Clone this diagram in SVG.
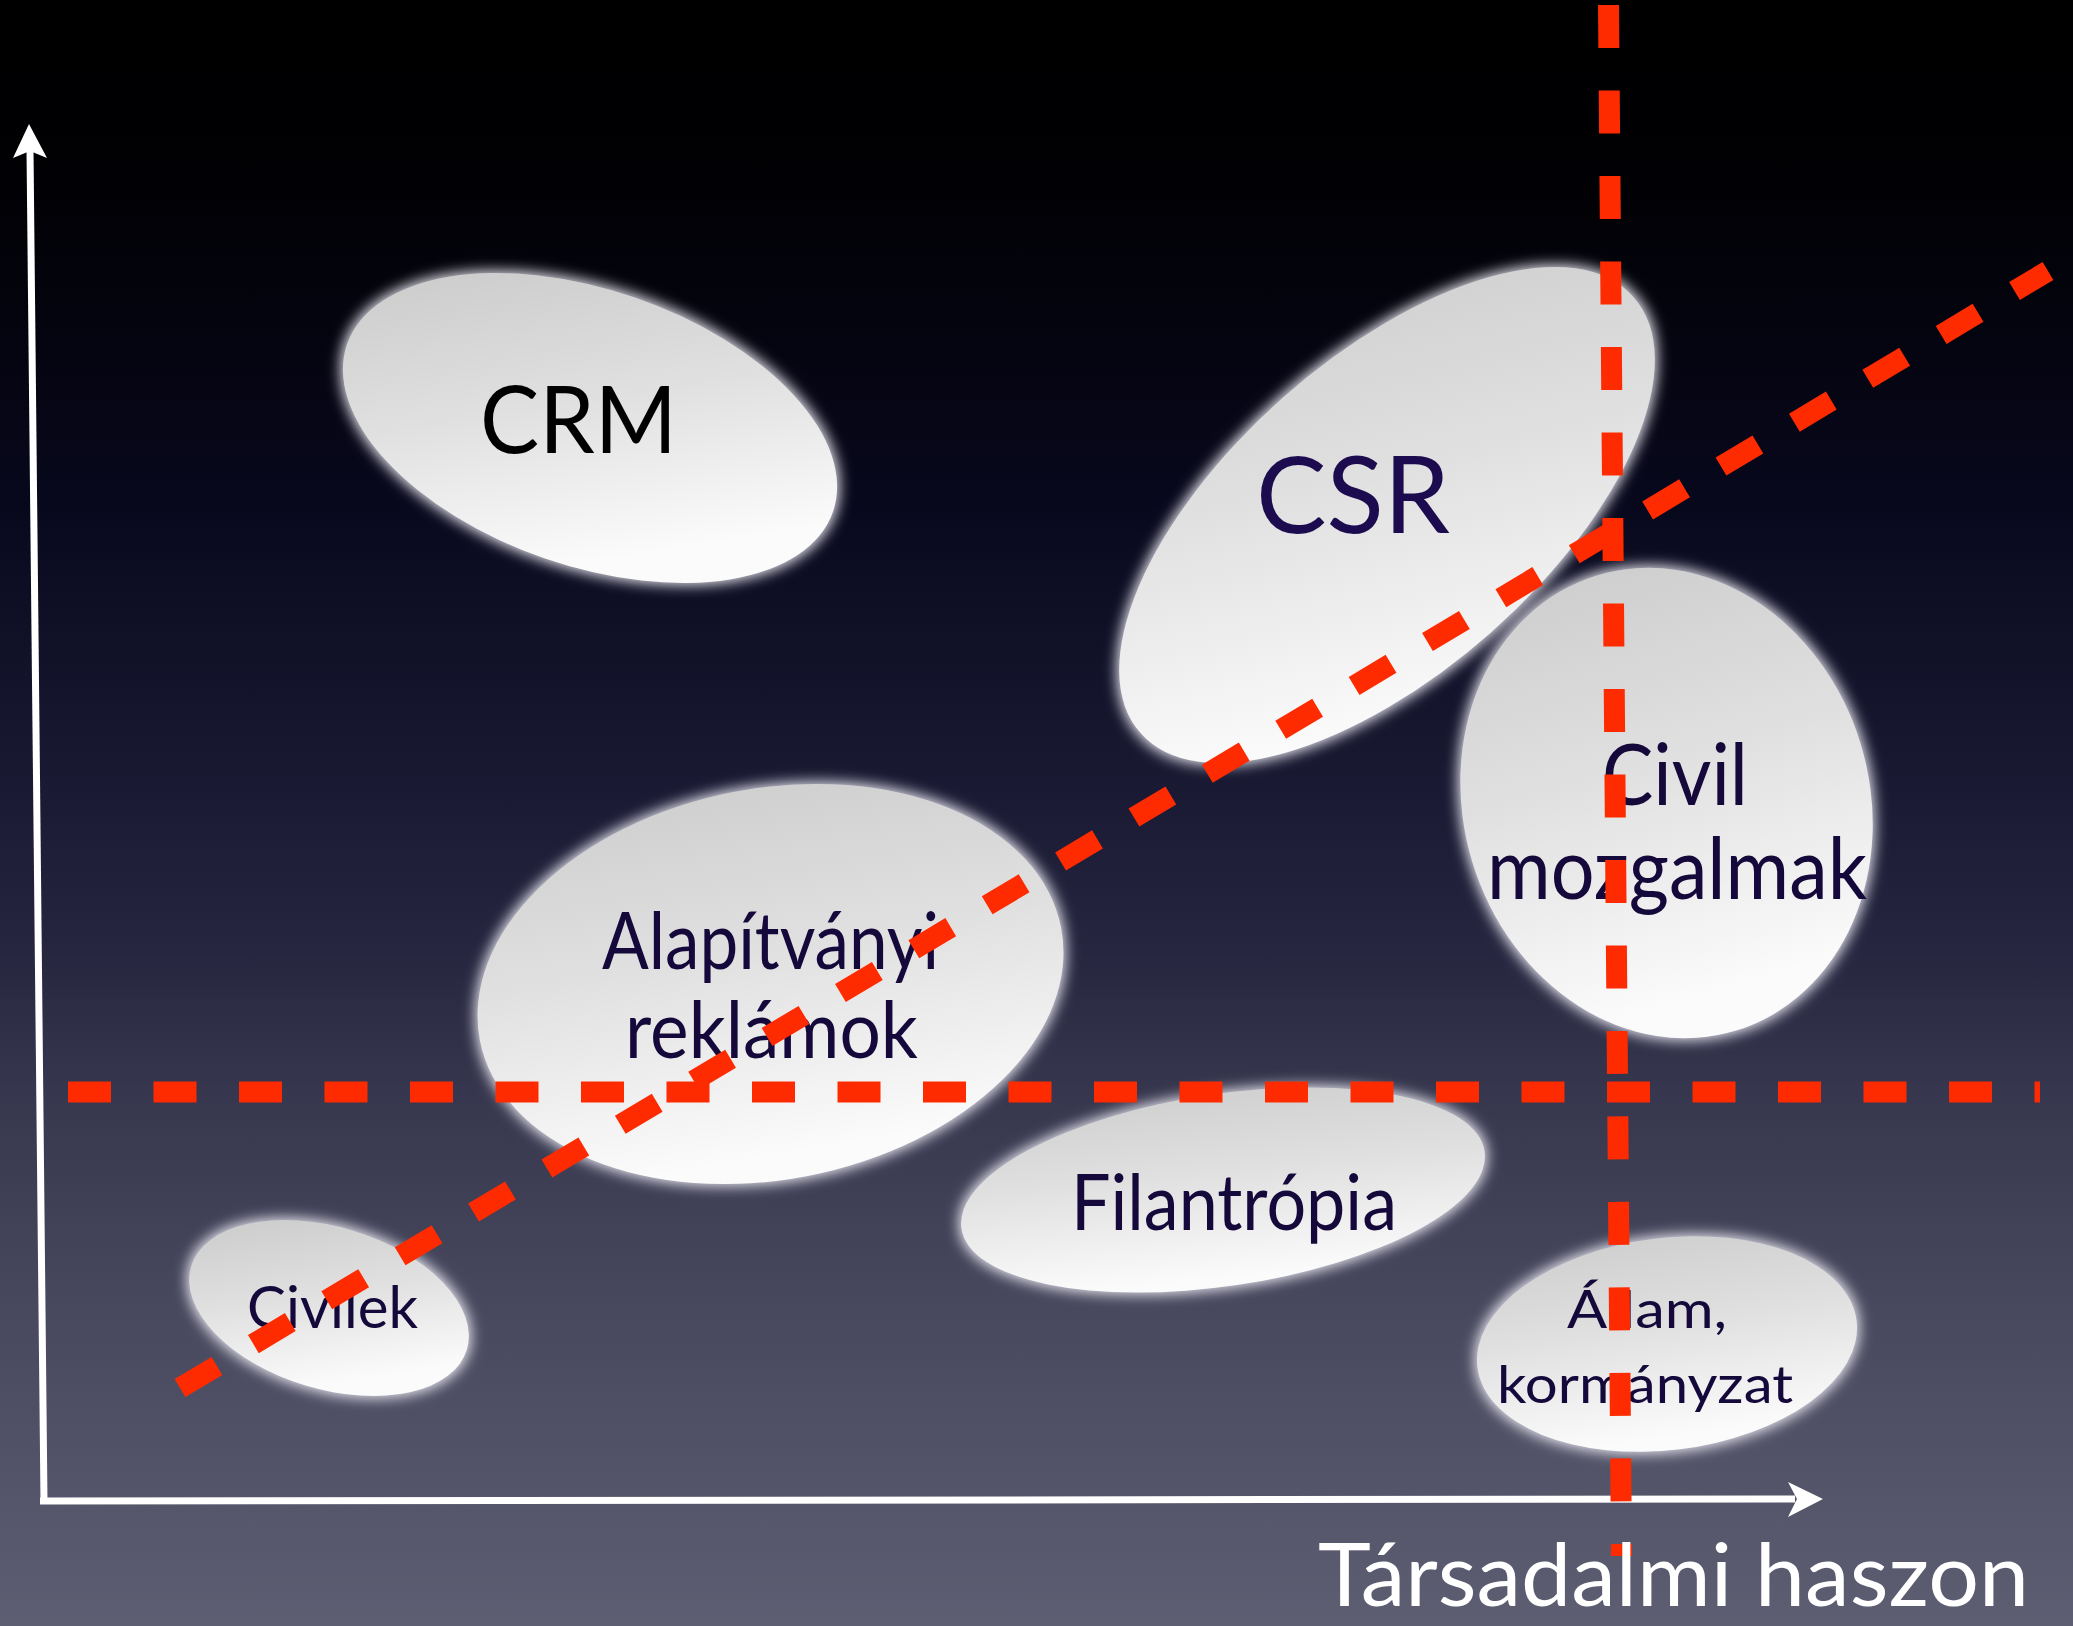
<svg xmlns="http://www.w3.org/2000/svg" width="2073" height="1626" viewBox="0 0 2073 1626">
  <defs>
    <linearGradient id="bg" x1="0" y1="0" x2="0" y2="1">
      <stop offset="0" stop-color="#000000"/>
      <stop offset="0.12" stop-color="#010105"/>
      <stop offset="0.31" stop-color="#08081d"/>
      <stop offset="0.49" stop-color="#1a1a34"/>
      <stop offset="0.58" stop-color="#25253f"/>
      <stop offset="0.67" stop-color="#36364e"/>
      <stop offset="0.8" stop-color="#47475d"/>
      <stop offset="1" stop-color="#5e5e73"/>
    </linearGradient>
    <linearGradient id="blob" x1="0" y1="0" x2="0.25" y2="1">
      <stop offset="0" stop-color="#cbcbcb"/>
      <stop offset="0.5" stop-color="#e0e0e0"/>
      <stop offset="1" stop-color="#fbfbfb"/>
    </linearGradient>
    <filter id="glow" x="-20%" y="-20%" width="140%" height="140%">
      <feMorphology in="SourceAlpha" operator="dilate" radius="2" result="d"/>
      <feGaussianBlur in="d" stdDeviation="7" result="b"/>
      <feFlood flood-color="#ecebf4" flood-opacity="1"/>
      <feComposite in2="b" operator="in" result="g"/>
      <feMerge>
        <feMergeNode in="g"/>
        <feMergeNode in="SourceGraphic"/>
      </feMerge>
    </filter>
  </defs>
  <style>
    .blob { fill: url(#blob); filter: url(#glow); }
    .lbl { font-family: Lato, "Open Sans", "Liberation Sans", sans-serif; fill: #14093a; text-anchor: middle; }
    .axis { stroke: #ffffff; stroke-width: 7; fill: none; }
    .head { fill: #ffffff; }
    .dash { stroke: #ff2b00; stroke-width: 21; stroke-dasharray: 43 42.5; fill: none; stroke-linecap: butt; }
  </style>

  <rect x="0" y="0" width="2073" height="1626" fill="url(#bg)"/>

  <g id="axes">
    <line class="axis" x1="44" y1="1502" x2="30" y2="150"/>
    <polygon class="head" points="29,124 47,158 30,151 13,158"/>
    <line class="axis" x1="40" y1="1501" x2="1795" y2="1499"/>
    <polygon class="head" points="1823,1499 1788,1517 1797,1499 1788,1482"/>
  </g>

  <g id="node-crm">
    <path class="blob" d="M347,344.3 A257,138 19 1 1 833,511.7 A257,138 19 1 1 347,344.3 Z"/>
    <text class="lbl" x="578.5" y="453" font-size="94" style="fill:#000000" textLength="197" lengthAdjust="spacingAndGlyphs">CRM</text>
  </g>

  <g id="node-csr">
    <path class="blob" d="M1140.6,733 A329,156 -41.5 1 1 1633.4,297 A329,156 -41.5 1 1 1140.6,733 Z"/>
    <text class="lbl" x="1353" y="533" font-size="107" style="fill:#1c0b4e" textLength="194" lengthAdjust="spacingAndGlyphs">CSR</text>
  </g>

  <g id="node-civil-mozgalmak">
    <path class="blob" d="M1596.9,575.4 A203,238 -17 1 1 1736.1,1030.6 A203,238 -17 1 1 1596.9,575.4 Z"/>
    <text class="lbl" x="1675" y="805" font-size="85" textLength="146" lengthAdjust="spacingAndGlyphs">Civil</text>
    <text class="lbl" x="1677" y="899" font-size="85" textLength="380" lengthAdjust="spacingAndGlyphs">mozgalmak</text>
  </g>

  <g id="node-alapitvanyi">
    <path class="blob" d="M479.9,1040.5 A296,195.5 -11 1 1 1061.1,927.5 A296,195.5 -11 1 1 479.9,1040.5 Z"/>
    <text class="lbl" x="770.5" y="969" font-size="80" textLength="337" lengthAdjust="spacingAndGlyphs">Alapítványi</text>
    <text class="lbl" x="771.5" y="1058" font-size="80" textLength="293" lengthAdjust="spacingAndGlyphs">reklámok</text>
  </g>

  <g id="node-filantropia">
    <path class="blob" d="M961.4,1228.6 A264.4,96 -8.4 1 1 1484.6,1151.4 A264.4,96 -8.4 1 1 961.4,1228.6 Z"/>
    <text class="lbl" x="1234" y="1230" font-size="78" textLength="326" lengthAdjust="spacingAndGlyphs">Filantrópia</text>
  </g>

  <g id="node-civilek">
    <path class="blob" d="M191.1,1266.4 A144,81 16.8 1 1 466.9,1349.6 A144,81 16.8 1 1 191.1,1266.4 Z"/>
    <text class="lbl" x="332.5" y="1328" font-size="58" textLength="171" lengthAdjust="spacingAndGlyphs">Civilek</text>
  </g>

  <g id="node-allam">
    <path class="blob" d="M1477.4,1367.3 A191,106 -7 1 1 1856.6,1320.7 A191,106 -7 1 1 1477.4,1367.3 Z"/>
    <text class="lbl" x="1647" y="1328" font-size="52" textLength="160" lengthAdjust="spacingAndGlyphs">Állam,</text>
    <text class="lbl" x="1645" y="1403" font-size="52" textLength="296" lengthAdjust="spacingAndGlyphs">kormányzat</text>
  </g>

  <g id="connectors">
    <line class="dash" x1="68" y1="1092" x2="2040" y2="1092"/>
    <line class="dash" x1="1608.5" y1="5" x2="1621.5" y2="1556"/>
    <line class="dash" x1="180" y1="1388" x2="2048" y2="271"/>
  </g>

  <text id="axis-label" x="1673.5" y="1606" font-family="Lato, 'Open Sans', 'Liberation Sans', sans-serif" font-size="88" fill="#ffffff" text-anchor="middle" textLength="711" lengthAdjust="spacingAndGlyphs">Társadalmi haszon</text>
</svg>
